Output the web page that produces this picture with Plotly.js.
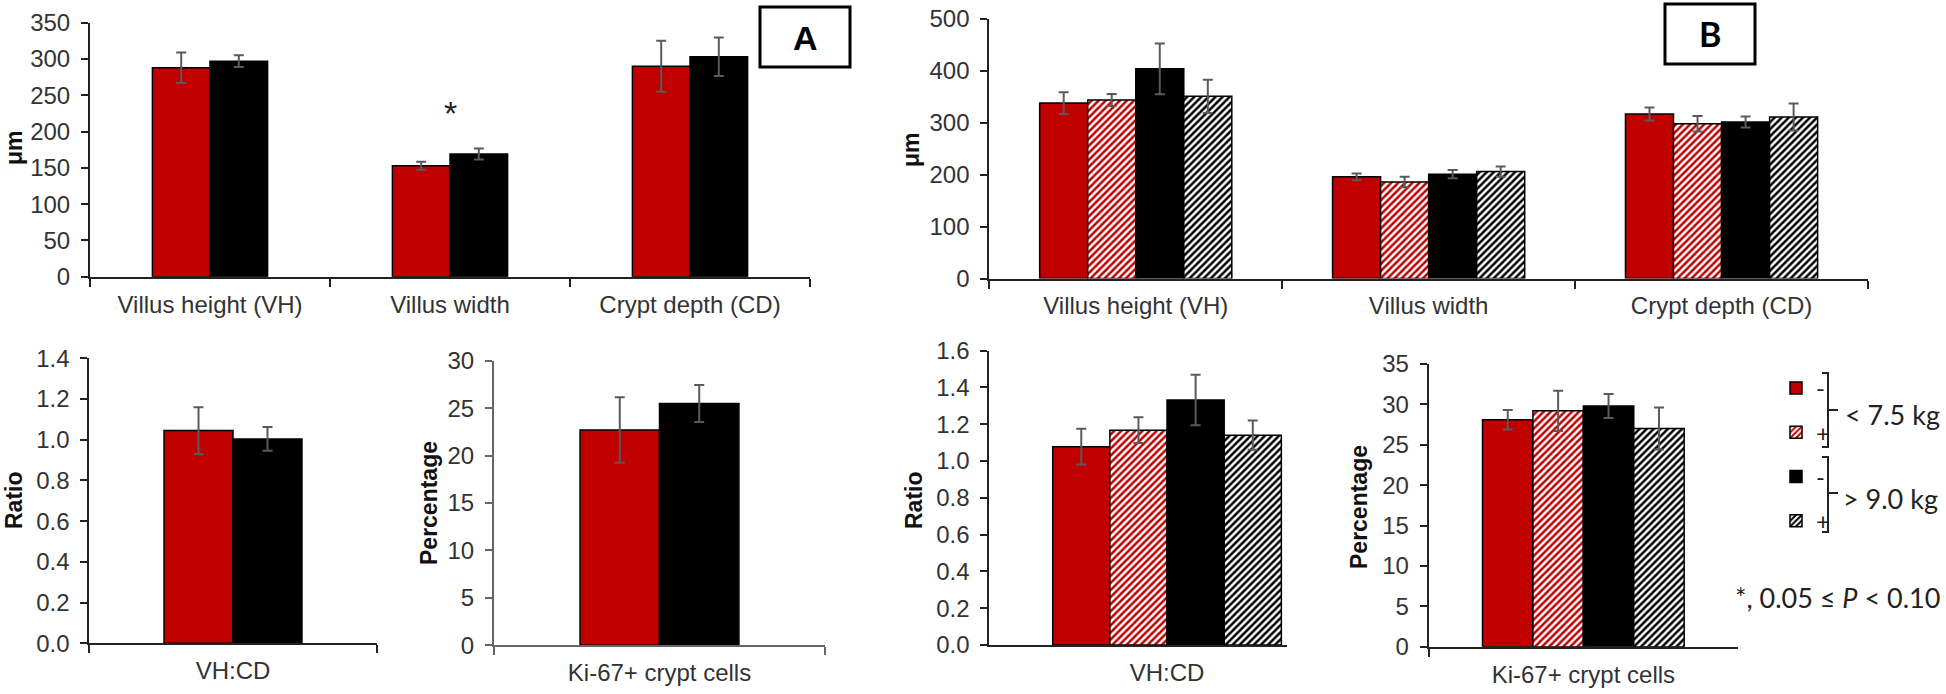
<!DOCTYPE html>
<html>
<head>
<meta charset="utf-8">
<script src="https://cdn.plot.ly/plotly-3.0.1.min.js"></script>
<style>html,body{margin:0;padding:0;background:#fff;}#chart{width:1946px;height:694px;}</style>
</head>
<body>
<div id="chart"></div>
<script>
// ---------------- data ----------------
const topCategories = ['Villus height (VH)', 'Villus width', 'Crypt depth (CD)'];
const ratioCategory = ['VH:CD'];
const ki67Category = ['Ki-67+ crypt cells'];

// Panel A (two weight groups)
const aTopLight = [288, 153, 290];
const aTopLightErr = [21, 5.5, 35];
const aTopHeavy = [297, 169, 303];
const aTopHeavyErr = [8, 7.5, 26.5];
const aRatioLight = [1.045];
const aRatioLightErr = [0.115];
const aRatioHeavy = [1.004];
const aRatioHeavyErr = [0.058];
const aKiLight = [22.7];
const aKiLightErr = [3.45];
const aKiHeavy = [25.5];
const aKiHeavyErr = [1.95];

// Panel B (weight group x treatment)
const bTopLightMinus = [338, 196, 317];
const bTopLightMinusErr = [21, 6.5, 12.5];
const bTopLightPlus = [344, 186, 298];
const bTopLightPlusErr = [11.5, 10, 15];
const bTopHeavyMinus = [404, 201, 301.5];
const bTopHeavyMinusErr = [49, 8, 10.5];
const bTopHeavyPlus = [351, 206, 311];
const bTopHeavyPlusErr = [32, 10, 26];

const bRatioLightMinus = [1.078];
const bRatioLightMinusErr = [0.097];
const bRatioLightPlus = [1.168];
const bRatioLightPlusErr = [0.07];
const bRatioHeavyMinus = [1.332];
const bRatioHeavyMinusErr = [0.137];
const bRatioHeavyPlus = [1.141];
const bRatioHeavyPlusErr = [0.08];

const bKiLightMinus = [28.1];
const bKiLightMinusErr = [1.2];
const bKiLightPlus = [29.2];
const bKiLightPlusErr = [2.5];
const bKiHeavyMinus = [29.8];
const bKiHeavyMinusErr = [1.5];
const bKiHeavyPlus = [27.0];
const bKiHeavyPlusErr = [2.6];

const legendNames = ['-', '+', '-', '+'];

// ---------------- styles ----------------
const W = 1946, H = 694;
const fx = p => p / W;
const fy = p => 1 - p / H;
const RED = '#C00000';
const AXFONT = {family: '"Liberation Sans", Arial, sans-serif', size: 24, color: '#333'};
const outline = {color: '#000', width: 1.5};
const styles = {
  redSolid: {color: RED, line: outline},
  redHatch: {color: '#fff', line: outline, pattern: {shape: '/', fgcolor: RED, bgcolor: '#fff', size: 5, solidity: 0.5}},
  blackSolid: {color: '#000', line: outline},
  blackHatch: {color: '#fff', line: outline, pattern: {shape: '/', fgcolor: '#000', bgcolor: '#fff', size: 5, solidity: 0.5}}
};

function bar(xa, ya, cats, vals, errs, style, offset, width, legend) {
  const t = {
    type: 'bar', x: cats, y: vals, xaxis: xa, yaxis: ya,
    marker: JSON.parse(JSON.stringify(style)),
    offset: offset, width: width,
    error_y: {type: 'data', array: errs, visible: true, color: '#5a5a5a', thickness: 2, width: 5},
    showlegend: false, hoverinfo: 'y'
  };
  if (legend) {
    t.name = legend.name; t.legendgroup = legend.group; t.showlegend = legend.show;
  }
  return t;
}

const traces = [];
// Panel B top (legend carriers)
const bw = 0.164;
traces.push(bar('x2', 'y2', topCategories, bTopLightMinus, bTopLightMinusErr, styles.redSolid, -2 * bw, bw, {name: legendNames[0], group: 'g1', show: true}));
traces.push(bar('x2', 'y2', topCategories, bTopLightPlus, bTopLightPlusErr, styles.redHatch, -bw, bw, {name: legendNames[1], group: 'g2', show: true}));
traces.push(bar('x2', 'y2', topCategories, bTopHeavyMinus, bTopHeavyMinusErr, styles.blackSolid, 0, bw, {name: legendNames[2], group: 'g3', show: true}));
traces.push(bar('x2', 'y2', topCategories, bTopHeavyPlus, bTopHeavyPlusErr, styles.blackHatch, bw, bw, {name: legendNames[3], group: 'g4', show: true}));
// Panel A top
const aw = 0.24;
traces.push(bar('x', 'y', topCategories, aTopLight, aTopLightErr, styles.redSolid, -aw, aw));
traces.push(bar('x', 'y', topCategories, aTopHeavy, aTopHeavyErr, styles.blackSolid, 0, aw));
// Panel A ratio
traces.push(bar('x3', 'y3', ratioCategory, aRatioLight, aRatioLightErr, styles.redSolid, -aw, aw));
traces.push(bar('x3', 'y3', ratioCategory, aRatioHeavy, aRatioHeavyErr, styles.blackSolid, 0, aw));
// Panel A Ki-67
traces.push(bar('x4', 'y4', ki67Category, aKiLight, aKiLightErr, styles.redSolid, -aw, aw));
traces.push(bar('x4', 'y4', ki67Category, aKiHeavy, aKiHeavyErr, styles.blackSolid, 0, aw));
// Panel B ratio
const rw = 0.192;
traces.push(bar('x5', 'y5', ratioCategory, bRatioLightMinus, bRatioLightMinusErr, styles.redSolid, -2 * rw, rw));
traces.push(bar('x5', 'y5', ratioCategory, bRatioLightPlus, bRatioLightPlusErr, styles.redHatch, -rw, rw));
traces.push(bar('x5', 'y5', ratioCategory, bRatioHeavyMinus, bRatioHeavyMinusErr, styles.blackSolid, 0, rw));
traces.push(bar('x5', 'y5', ratioCategory, bRatioHeavyPlus, bRatioHeavyPlusErr, styles.blackHatch, rw, rw));
// Panel B Ki-67
const kw = 0.163;
traces.push(bar('x6', 'y6', ki67Category, bKiLightMinus, bKiLightMinusErr, styles.redSolid, -2 * kw, kw));
traces.push(bar('x6', 'y6', ki67Category, bKiLightPlus, bKiLightPlusErr, styles.redHatch, -kw, kw));
traces.push(bar('x6', 'y6', ki67Category, bKiHeavyMinus, bKiHeavyMinusErr, styles.blackSolid, 0, kw));
traces.push(bar('x6', 'y6', ki67Category, bKiHeavyPlus, bKiHeavyPlusErr, styles.blackHatch, kw, kw));

// ---------------- axes ----------------
function xAxis(domainPx, yanchor, range, color, ticks) {
  return {
    type: 'category', domain: [fx(domainPx[0]), fx(domainPx[1])], anchor: yanchor, range: range,
    showline: true, linecolor: color || '#222', linewidth: 2,
    ticks: ticks === undefined ? 'outside' : ticks, tickson: 'boundaries', ticklen: 8, tickwidth: 2, tickcolor: color || '#222',
    tickfont: AXFONT, showgrid: false, zeroline: false, fixedrange: true, ticklabelstandoff: 5
  };
}
function yAxis(domainPx, xanchor, range, dtick, fmt, color) {
  return {
    domain: [fy(domainPx[0]), fy(domainPx[1])], anchor: xanchor, range: range, dtick: dtick, tick0: 0,
    tickformat: fmt || '', showline: true, linecolor: color || '#222', linewidth: 2,
    ticks: 'outside', ticklen: 7, tickwidth: 2, tickcolor: color || '#222',
    tickfont: AXFONT, showgrid: false, zeroline: false, fixedrange: true, ticklabelstandoff: 6
  };
}
function innerTicks(over, xanchor, range, dtick, color) {
  return {
    overlaying: over, anchor: xanchor, side: 'left', range: range, dtick: dtick, tick0: 0,
    ticks: 'inside', ticklen: 8, tickwidth: 2, tickcolor: color || '#222',
    showticklabels: false, showline: false, showgrid: false, zeroline: false, fixedrange: true
  };
}

const layout = {
  width: W, height: H,
  margin: {l: 0, r: 0, t: 0, b: 0, pad: 0},
  paper_bgcolor: '#fff', plot_bgcolor: 'rgba(0,0,0,0)',
  barmode: 'overlay',
  font: AXFONT,
  xaxis: xAxis([90, 810], 'y', [-0.5, 2.5]),
  yaxis: yAxis([276.7, 22.7], 'x', [0, 350], 50),
  xaxis2: xAxis([989.3, 1868], 'y2', [-0.5, 2.5]),
  yaxis2: yAxis([278.5, 19], 'x2', [0, 500], 100),
  xaxis3: xAxis([89.3, 376.7], 'y3', [-0.5, 0.5]),
  yaxis3: yAxis([643.3, 358.3], 'x3', [0, 1.4], 0.2, '.1f'),
  xaxis4: xAxis([494, 825], 'y4', [-0.5, 0.5], '#666'),
  yaxis4: yAxis([645.3, 360.7], 'x4', [0, 30], 5, '', '#666'),
  xaxis5: xAxis([989.3, 1287], 'y5', [-0.597, 0.403], '#222', ''),
  yaxis5: yAxis([645, 350.7], 'x5', [0, 1.6], 0.2, '.1f'),
  xaxis6: xAxis([1428.7, 1738], 'y6', [-0.5, 0.5]),
  yaxis6: yAxis([646.7, 364], 'x6', [0, 35], 5),
  yaxis7: innerTicks('y', 'x', [0, 350], 50),
  yaxis8: innerTicks('y2', 'x2', [0, 500], 100),
  yaxis9: innerTicks('y3', 'x3', [0, 1.4], 0.2),
  yaxis10: innerTicks('y4', 'x4', [0, 30], 5, '#666'),
  yaxis11: innerTicks('y5', 'x5', [0, 1.6], 0.2),
  yaxis12: innerTicks('y6', 'x6', [0, 35], 5),
  showlegend: true,
  legend: {
    x: fx(1776), y: fy(366), xanchor: 'left', yanchor: 'top',
    font: {family: 'Lato, "Open Sans", sans-serif', size: 24, color: '#222'},
    bgcolor: 'rgba(0,0,0,0)', borderwidth: 0, tracegroupgap: 10, traceorder: 'grouped',
    itemclick: false, itemdoubleclick: false
  },
  shapes: [],
  annotations: []
};

// y-axis titles
const titleFont = {family: '"Liberation Sans", Arial, sans-serif', size: 23, color: '#111', weight: 'bold'};
function yTitle(text, xp, yp) {
  layout.annotations.push({text: '<b>' + text + '</b>', x: fx(xp), y: fy(yp), xref: 'paper', yref: 'paper',
    xanchor: 'center', yanchor: 'middle', textangle: -90, showarrow: false, font: titleFont});
}
yTitle('μm', 14, 148);
yTitle('μm', 911, 150);
yTitle('Ratio', 14, 500);
yTitle('Percentage', 429, 503);
yTitle('Ratio', 914, 500);
yTitle('Percentage', 1359, 507);

// panel label boxes
layout.shapes.push({type: 'rect', xref: 'paper', yref: 'paper', x0: fx(760), x1: fx(850), y0: fy(67), y1: fy(7), line: {color: '#000', width: 3}});
layout.annotations.push({text: '<b>A</b>', x: fx(805), y: fy(38), xref: 'paper', yref: 'paper', showarrow: false,
  xanchor: 'center', yanchor: 'middle', font: {family: '"Liberation Sans", Arial, sans-serif', size: 34, color: '#000'}});
layout.shapes.push({type: 'rect', xref: 'paper', yref: 'paper', x0: fx(1665), x1: fx(1755), y0: fy(64), y1: fy(4), line: {color: '#000', width: 3}});
layout.annotations.push({text: '<b>B</b>', x: fx(1710), y: fy(34), xref: 'paper', yref: 'paper', showarrow: false,
  xanchor: 'center', yanchor: 'middle', font: {family: 'Lato, "Open Sans", sans-serif', size: 34, color: '#000'}});

// significance asterisk
layout.annotations.push({text: '*', x: 'Villus width', y: 226, xref: 'x', yref: 'y', showarrow: false,
  xanchor: 'center', yanchor: 'middle', font: {family: '"Liberation Sans", Arial, sans-serif', size: 34, color: '#222'}});

// legend brackets
function bracket(y0, y1, ym) {
  layout.shapes.push({type: 'path', xref: 'paper', yref: 'paper',
    path: 'M ' + fx(1822) + ' ' + fy(y0) + ' L ' + fx(1828) + ' ' + fy(y0) + ' L ' + fx(1828) + ' ' + fy(y1) + ' L ' + fx(1822) + ' ' + fy(y1),
    line: {color: '#222', width: 2}});
  layout.shapes.push({type: 'line', xref: 'paper', yref: 'paper', x0: fx(1828), x1: fx(1838), y0: fy(ym), y1: fy(ym),
    line: {color: '#222', width: 2}});
}
bracket(373, 447, 410);
bracket(457, 532, 493);
const legFont = {family: 'Lato, "Open Sans", sans-serif', size: 27, color: '#222'};
layout.annotations.push({text: '< 7.5 kg', x: fx(1843), y: fy(414), xref: 'paper', yref: 'paper', showarrow: false,
  xanchor: 'left', yanchor: 'middle', font: legFont});
layout.annotations.push({text: '> 9.0 kg', x: fx(1841), y: fy(498), xref: 'paper', yref: 'paper', showarrow: false,
  xanchor: 'left', yanchor: 'middle', font: legFont});
layout.annotations.push({text: '*, 0.05 ≤ <i>P</i> < 0.10', x: fx(1942), y: fy(597), xref: 'paper', yref: 'paper', showarrow: false,
  xanchor: 'right', yanchor: 'middle', font: legFont});

Plotly.newPlot('chart', traces, layout, {staticPlot: true, displayModeBar: false});
</script>
</body>
</html>
